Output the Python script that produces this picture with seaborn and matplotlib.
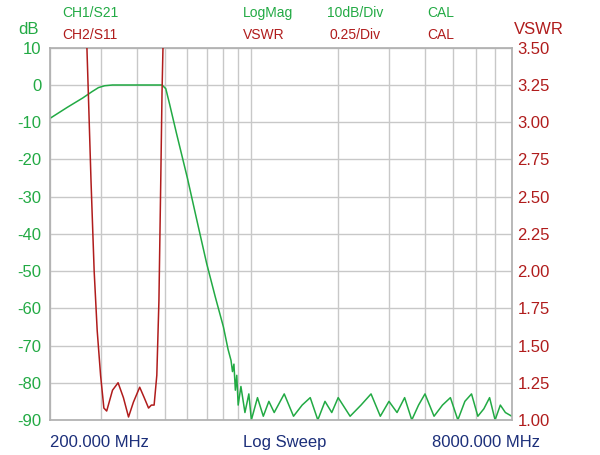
import matplotlib
matplotlib.use("Agg")
import matplotlib.pyplot as plt
import seaborn as sns
import pandas as pd

sns.set_theme(style="white")
plt.rcParams['font.family'] = ['Liberation Sans', 'DejaVu Sans']

GREEN = "#22aa44"
RED = "#b01c1c"
BLUE = "#1c2f7a"

# S21 (dB)
s21_f = [200, 230, 260, 280, 295, 310, 330, 350, 400, 450, 490, 505, 520, 550, 600, 650, 700, 750, 800, 830, 850, 860,
         870, 880, 890, 900, 920, 950, 980, 1000, 1050, 1100, 1150, 1200, 1300, 1400, 1500, 1600, 1700, 1800,
         1900, 2000, 2200, 2400, 2600, 2800, 3000, 3200, 3400, 3600, 3800, 4000, 4300, 4600, 4900, 5200, 5500,
         5800, 6100, 6400, 6700, 7000, 7300, 7600, 8000]
s21_db = [-9, -6, -3.5, -1.8, -0.7, -0.2, 0, 0, 0, 0, 0, -1, -5, -13, -25, -37, -48, -57, -65, -71, -74, -77,
          -75, -82, -78, -86, -81, -88, -83, -90, -84, -89, -85, -88, -83, -89, -86, -84, -90, -85,
          -88, -84, -89, -86, -83, -89, -85, -88, -84, -90, -86, -83, -89, -86, -84, -90, -85,
          -83, -89, -87, -84, -90, -86, -88, -89]

# S11 (VSWR)
s11_f = [268, 272, 278, 285, 292, 300, 308, 315, 330, 345, 360, 375, 390, 410, 425, 440, 450, 460, 470, 478, 485, 490, 495]
s11_vswr = [3.6, 3.2, 2.6, 2.0, 1.6, 1.3, 1.08, 1.06, 1.2, 1.25, 1.15, 1.02, 1.12, 1.22, 1.15, 1.08, 1.1, 1.1, 1.3, 1.8, 2.6, 3.2, 3.6]

x_ticks = [200, 300, 400, 500, 600, 700, 800, 900, 1000, 2000, 3000, 4000, 5000, 6000, 7000, 8000]
db_ticks = list(range(-90, 11, 10))
vswr_ticks = [1.00, 1.25, 1.50, 1.75, 2.00, 2.25, 2.50, 2.75, 3.00, 3.25, 3.50]

fig = plt.figure(figsize=(6, 4.55), dpi=100)
ax = fig.add_axes([0.083, 0.077, 0.77, 0.818])
ax.set_xscale("log")
ax.set_xlim(200, 8000)
ax.set_ylim(-90, 10)
ax.set_xticks(x_ticks)
ax.set_xticklabels([])
ax.minorticks_off()
ax.set_yticks(db_ticks)
ax.set_yticklabels([str(v) for v in db_ticks], color=GREEN, fontsize=12)
ax.tick_params(length=0, pad=6)
ax.grid(True, color="#c8c8c8", lw=1)
for s in ax.spines.values():
    s.set_color("#b0b0b0")

sns.lineplot(x=s21_f, y=s21_db, ax=ax, color=GREEN, lw=1.1, sort=False)

ax2 = ax.twinx()
ax2.set_ylim(1.0, 3.5)
ax2.set_yticks(vswr_ticks)
ax2.set_yticklabels([f"{v:.2f}" for v in vswr_ticks], color=RED, fontsize=12)
ax2.tick_params(length=0, pad=4)
for s in ax2.spines.values():
    s.set_visible(False)
sns.lineplot(x=s11_f, y=s11_vswr, ax=ax2, color=RED, lw=1.1, sort=False)
ax2.set_xlim(200, 8000)

fig.text(0.03, 0.925, "dB", color=GREEN, fontsize=12)
fig.text(0.857, 0.925, "VSWR", color=RED, fontsize=12)
for x, t in [(0.103, "CH1/S21"), (0.405, "LogMag"), (0.545, "10dB/Div"), (0.712, "CAL")]:
    fig.text(x, 0.962, t, color=GREEN, fontsize=10)
for x, t in [(0.103, "CH2/S11"), (0.405, "VSWR"), (0.55, "0.25/Div"), (0.712, "CAL")]:
    fig.text(x, 0.915, t, color=RED, fontsize=10)
fig.text(0.083, 0.018, "200.000 MHz", color=BLUE, fontsize=12)
fig.text(0.475, 0.018, "Log Sweep", color=BLUE, fontsize=12, ha="center")
fig.text(0.9, 0.018, "8000.000 MHz", color=BLUE, fontsize=12, ha="right")

fig.savefig("out.png", dpi=100)
